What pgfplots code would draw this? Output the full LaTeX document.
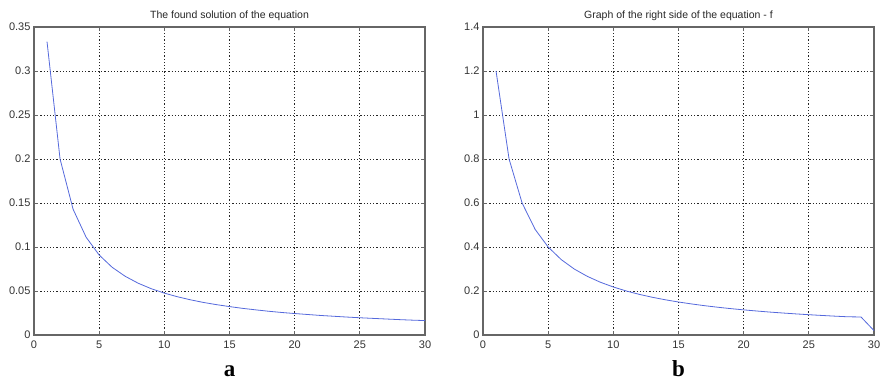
\documentclass[border=0pt]{standalone}
\usepackage{pgfplots}
\pgfplotsset{compat=1.18}
\usepackage{fontspec}
\setmainfont{Liberation Sans}
\newfontfamily\timesfont{Liberation Serif}
\definecolor{mline}{RGB}{85,105,220}
\pgfplotsset{
  mstyle/.style={
    scale only axis, width=391pt, height=308pt,
    xmin=0, xmax=30, xtick={0,5,...,30},
    grid=major, major grid style={black!85, dash pattern=on 1.2pt off 2pt, line width=0.7pt},
    axis line style={black!60, line width=1.1pt},
    tick align=inside, tick style={black!60, line width=0.7pt},
    major tick length=4pt,
    ticklabel style={font=\fontsize{11}{13}\selectfont, text=black!80},
    /pgf/number format/assume math mode=true,
    title style={font=\fontsize{10.5}{12}\selectfont, text=black!85, yshift=-3pt},
    xlabel style={font=\timesfont\bfseries\fontsize{23}{25}\selectfont, yshift=-6pt, text height=15pt, text depth=0pt},
    yticklabel style={xshift=0pt},
    xticklabel style={yshift=-2pt},
  }
}
\begin{document}
\begin{tikzpicture}
\begin{axis}[mstyle, at={(34pt,-27pt)}, anchor=north west,
  ymin=0, ymax=0.35, ytick={0,0.05,...,0.35},
  yticklabels={0,0.05,0.1,0.15,0.2,0.25,0.3,0.35},
  title={The found solution of the equation}, xlabel={a}]
\addplot[mline, line width=0.8pt] coordinates {
(1,0.3333)(2,0.2)(3,0.1429)(4,0.1111)(5,0.0909)(6,0.0769)(7,0.0667)(8,0.0588)(9,0.0526)(10,0.0476)
(11,0.0435)(12,0.0400)(13,0.0370)(14,0.0345)(15,0.0323)(16,0.0303)(17,0.0286)(18,0.0270)(19,0.0256)(20,0.0244)
(21,0.0233)(22,0.0222)(23,0.0213)(24,0.0204)(25,0.0196)(26,0.0189)(27,0.0182)(28,0.0175)(29,0.0169)(30,0.0164)};
\end{axis}
\begin{axis}[mstyle, at={(483pt,-27pt)}, anchor=north west,
  ymin=0, ymax=1.4, ytick={0,0.2,...,1.4},
  yticklabels={0,0.2,0.4,0.6,0.8,1,1.2,1.4},
  title={Graph of the right side of the equation - f}, xlabel={b}]
\addplot[mline, line width=0.8pt] coordinates {
(1,1.2)(2,0.8)(3,0.6)(4,0.48)(5,0.4)(6,0.3429)(7,0.3)(8,0.2667)(9,0.24)(10,0.2182)
(11,0.2)(12,0.1846)(13,0.1714)(14,0.16)(15,0.15)(16,0.1412)(17,0.1333)(18,0.1263)(19,0.12)(20,0.1143)
(21,0.1091)(22,0.1043)(23,0.1)(24,0.096)(25,0.0923)(26,0.0889)(27,0.0857)(28,0.0828)(29,0.082)(30,0.02)};
\end{axis}
\pgfresetboundingbox
\path (0,0) rectangle (881pt,-384pt);
\end{tikzpicture}
\end{document}
